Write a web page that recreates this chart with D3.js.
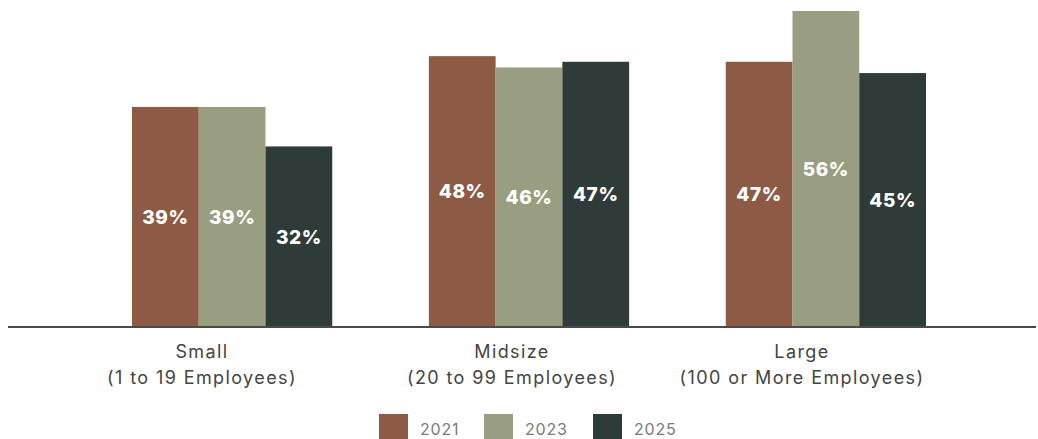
<!DOCTYPE html>
<html>
<head>
<meta charset="utf-8">
<script src="https://cdn.jsdelivr.net/npm/d3@7"></script>
<style>
  html, body { margin: 0; padding: 0; background: #fff; }
  svg { display: block; font-family: "Inter", "Open Sans", sans-serif; }
</style>
</head>
<body>
<svg id="chart" width="1038" height="439"></svg>
<script>
// Share of businesses by size, across survey years
const categories = ["Small", "Midsize", "Large"];
const categorySubtitles = ["(1 to 19 Employees)", "(20 to 99 Employees)", "(100 or More Employees)"];
const years = ["2021", "2023", "2025"];
const values2021 = [39, 48, 47];
const values2023 = [39, 46, 56];
const values2025 = [32, 47, 45];
const seriesColors = ["#8d5b45", "#999e80", "#2f3b39"];

const seriesValues = [values2021, values2023, values2025];

const svg = d3.select("#chart");
const baseline = 327;

const x0 = d3.scaleBand()
  .domain(categories)
  .range([132, 926])
  .paddingInner(0.3255)
  .paddingOuter(0);

const x1 = d3.scaleBand()
  .domain(years)
  .range([0, x0.bandwidth()])
  .padding(0);

// category captions are set slightly left of their bar groups
const xLabel = d3.scaleOrdinal()
  .domain(categories)
  .range([202, 512, 802]);

const y = d3.scaleLinear()
  .domain([0, 56])
  .range([baseline, 11]);

const rows = categories.map((c, i) => ({
  category: c,
  bars: years.map((yr, j) => ({ year: yr, value: seriesValues[j][i], color: seriesColors[j] }))
}));

const groups = svg.selectAll("g.group")
  .data(rows)
  .join("g")
  .attr("class", "group")
  .attr("transform", d => `translate(${x0(d.category)},0)`);

groups.selectAll("rect")
  .data(d => d.bars)
  .join("rect")
  .attr("x", d => x1(d.year))
  .attr("width", x1.bandwidth())
  .attr("y", d => y(d.value))
  .attr("height", d => baseline - y(d.value) + 1)
  .attr("fill", d => d.color);

groups.selectAll("text.value")
  .data(d => d.bars)
  .join("text")
  .attr("class", "value")
  .attr("x", d => x1(d.year) + x1.bandwidth() / 2)
  .attr("y", d => (y(d.value) + baseline) / 2)
  .attr("dy", "0.36em")
  .attr("text-anchor", "middle")
  .attr("fill", "#fff")
  .attr("font-weight", 800)
  .attr("font-size", 19)
  .attr("letter-spacing", 0.6)
  .text(d => d.value + "%");

// baseline axis
svg.append("line")
  .attr("x1", 8).attr("x2", 1036)
  .attr("y1", baseline).attr("y2", baseline)
  .attr("stroke", "#4a4a4a")
  .attr("stroke-width", 2);

// category labels
const catLabels = svg.selectAll("text.cat")
  .data(categories)
  .join("text")
  .attr("class", "cat")
  .attr("text-anchor", "middle")
  .attr("fill", "#444")
  .attr("font-size", 18)
  .attr("letter-spacing", 1.4)
  .attr("x", d => xLabel(d));

catLabels.append("tspan")
  .attr("x", d => xLabel(d))
  .attr("y", 358)
  .text(d => d);

catLabels.append("tspan")
  .attr("x", d => xLabel(d))
  .attr("y", 384)
  .text((d, i) => categorySubtitles[i]);

// legend
const legendX = [379, 484, 593];
const legend = svg.selectAll("g.legend")
  .data(years)
  .join("g")
  .attr("class", "legend")
  .attr("transform", (d, i) => `translate(${legendX[i]},414)`);

legend.append("rect")
  .attr("width", 29)
  .attr("height", 25)
  .attr("fill", (d, i) => seriesColors[i]);

legend.append("text")
  .attr("x", 41)
  .attr("y", 21)
  .attr("fill", "#7a7a7a")
  .attr("font-size", 16)
  .attr("letter-spacing", 0.8)
  .text(d => d);
</script>
</body>
</html>
